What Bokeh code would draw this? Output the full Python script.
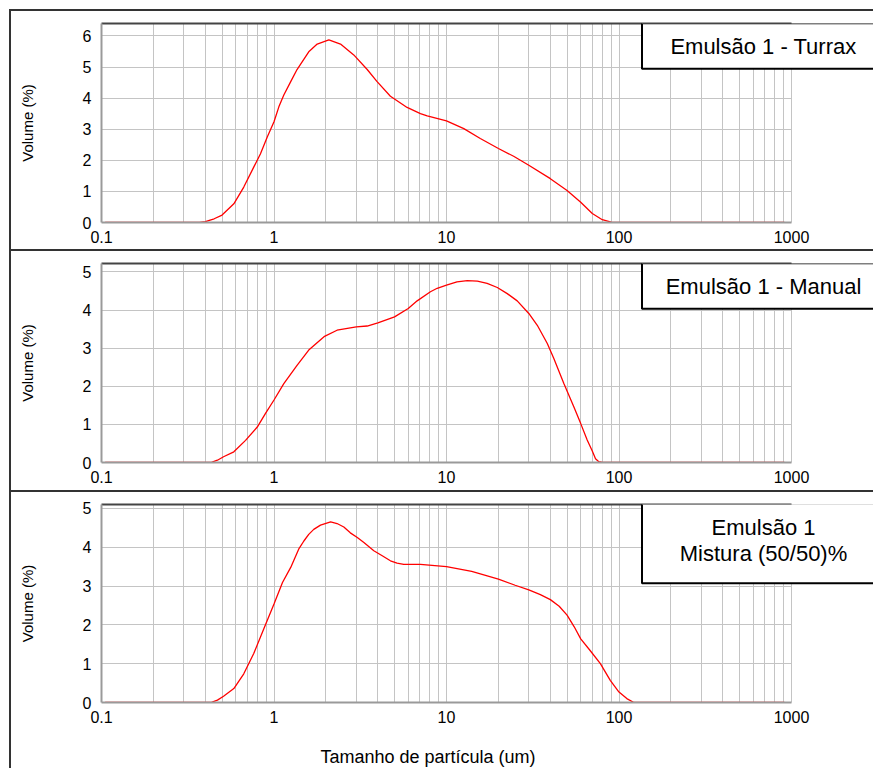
from bokeh.plotting import figure
from bokeh.layouts import column, row
from bokeh.models import (FixedTicker, Span, BoxAnnotation, Label, Range1d, Div, LogAxis, Title)
from bokeh.embed import file_html
from bokeh.resources import INLINE

# ---------------- data ----------------
size_turrax = [0.105, 0.2, 0.3, 0.37, 0.4, 0.45, 0.5, 0.585, 0.668, 0.763, 0.835, 0.914,
               1.0, 1.067, 1.14, 1.25, 1.36, 1.59, 1.78, 2.08, 2.43, 2.90, 3.47, 3.96,
               4.73, 5.91, 7.06, 7.73, 10, 12.6, 15.7, 20, 24.5, 30, 40, 50, 60, 70,
               80, 90, 100, 200, 500, 910]
vol_turrax = [0, 0, 0, 0, 0.03, 0.12, 0.24, 0.60, 1.14, 1.78, 2.21, 2.75,
              3.24, 3.72, 4.10, 4.53, 4.92, 5.49, 5.74, 5.87, 5.74, 5.39, 4.92, 4.53,
              4.06, 3.70, 3.50, 3.43, 3.27, 3.02, 2.70, 2.38, 2.13, 1.84, 1.41, 1.03, 0.65, 0.29,
              0.09, 0.01, 0, 0, 0, 0]

size_manual = [0.105, 0.2, 0.3, 0.43, 0.47, 0.51, 0.585, 0.684, 0.80, 0.893, 1.0, 1.14,
               1.36, 1.59, 1.95, 2.32, 3.0, 3.47, 4.0, 5.0, 6.0, 6.76, 8.07, 8.83, 10, 11.5,
               13.2, 15.1, 17.2, 19.7, 22.5, 25.7, 30, 33.6, 38.4, 41.9, 47.9, 54.7, 60,
               65.4, 70, 73.1, 76.4, 80, 100, 200, 500, 910]
vol_manual = [0, 0, 0, 0, 0.06, 0.15, 0.28, 0.58, 0.93, 1.29, 1.64, 2.07,
              2.55, 2.95, 3.30, 3.47, 3.56, 3.58, 3.66, 3.82, 4.04, 4.24, 4.48, 4.57, 4.65, 4.74,
              4.77, 4.76, 4.70, 4.59, 4.43, 4.24, 3.91, 3.60, 3.12, 2.73, 2.07, 1.46, 1.02,
              0.59, 0.30, 0.10, 0.02, 0, 0, 0, 0, 0]

size_mistura = [0.105, 0.2, 0.3, 0.43, 0.47, 0.51, 0.585, 0.668, 0.763, 0.873, 1.0, 1.12,
                1.25, 1.39, 1.49, 1.59, 1.70, 1.86, 2.13, 2.32, 2.54, 2.77, 3.04, 3.32, 3.79,
                4.24, 4.73, 5.17, 5.65, 7.06, 10,
                14, 20, 25, 30, 35, 40, 45, 50, 55, 60, 68, 78, 89, 100, 111, 122,
                200, 500, 910]
vol_mistura = [0, 0, 0, 0, 0.06, 0.16, 0.36, 0.74, 1.26, 1.90, 2.54, 3.09,
               3.48, 3.95, 4.16, 4.33, 4.46, 4.57, 4.65, 4.61, 4.52, 4.37, 4.25, 4.12, 3.91,
               3.78, 3.65, 3.59, 3.56, 3.56, 3.50,
               3.38, 3.18, 3.02, 2.90, 2.78, 2.65, 2.48, 2.25, 1.95, 1.64, 1.34, 1.00, 0.57, 0.27, 0.10, 0.0,
               0, 0, 0]

x_tick_values = [0.1, 1, 10, 100, 1000]
x_tick_labels = ["0.1", "1", "10", "100", "1000"]
y_title = "Volume (%)"
x_title = "Tamanho de partícula (um)"
legend_turrax = ["Emulsão 1 - Turrax"]
legend_manual = ["Emulsão 1 - Manual"]
legend_mistura = ["Emulsão 1", "Mistura (50/50)%"]

# ---------------- styling / layout ----------------
FONT = "Liberation Sans"
GRID = "#c4c4c4"
BORDER = "#333333"
FIG_W = 862                 # figures start at x = 11 (after page border)
FRAME_L = 90                # frame left inside figure (global x = 101)
DECADE_PX = 172.5           # pixels per decade in the reference
X_MIN, X_MAX = 0.1, 1000
# frame runs to the right page edge so the legend boxes can overflow the axes area
x_view_end = 10 ** (-1 + (FIG_W - FRAME_L) / DECADE_PX)
minor_ticks = [m * 10.0 ** e for e in range(-1, 3) for m in range(2, 10)]


def canvas_box(p, left, right, top, bottom, fill, line=None, lw=0, level="annotation"):
    b = BoxAnnotation(left=left, right=right, top=top, bottom=bottom,
                      left_units="canvas", right_units="canvas",
                      top_units="canvas", bottom_units="canvas",
                      fill_color=fill, fill_alpha=1.0,
                      line_color=line, line_alpha=1.0 if line else 0.0,
                      line_width=lw, level=level)
    p.add_layout(b)


def edge_axis(**kw):
    """An axis without ticks or labels, used only for its line."""
    return LogAxis(ticker=FixedTicker(ticks=[]), bounds=(X_MIN, X_MAX),
                   major_tick_line_color=None, minor_tick_line_color=None,
                   major_tick_in=0, major_tick_out=0, minor_tick_out=0,
                   major_label_standoff=0, **kw)


def spacer_axis(size):
    """An invisible axis whose (hidden) tick length reserves vertical space."""
    return LogAxis(ticker=FixedTicker(ticks=[1]), bounds=(X_MIN, X_MAX),
                   axis_line_color=None, major_tick_line_color=None,
                   minor_tick_line_color=None, major_tick_in=0,
                   major_tick_out=size, minor_tick_out=0,
                   major_label_overrides={1: ""}, major_label_standoff=0,
                   major_label_text_font_size="1px")


def make_panel(sizes, vols, ymax, yticks, height, top, bottom, legend_lines,
               box_top, box_bottom, text_ys, xlabel=None):
    p = figure(width=FIG_W, height=height, x_axis_type="log",
               x_range=Range1d(X_MIN, x_view_end), y_range=Range1d(0, ymax),
               output_backend="svg", toolbar_location=None,
               min_border_left=FRAME_L, min_border_right=0,
               min_border_top=top, min_border_bottom=bottom, margin=0)
    p.background_fill_color = "white"
    p.border_fill_color = "white"
    p.outline_line_color = None

    xt = FixedTicker(ticks=x_tick_values, minor_ticks=minor_ticks)
    p.xaxis.ticker = xt
    p.xgrid.ticker = xt
    p.xaxis.bounds = (X_MIN, X_MAX)
    p.xaxis.major_label_overrides = {v: s for v, s in zip(x_tick_values, x_tick_labels)}
    yt = FixedTicker(ticks=yticks)
    p.yaxis.ticker = yt
    p.ygrid.ticker = yt

    for g in (p.xgrid, p.ygrid):
        g.grid_line_color = GRID
        g.grid_line_width = 1
    p.xgrid.minor_grid_line_color = GRID
    p.xgrid.minor_grid_line_width = 1

    for ax in (p.xaxis, p.yaxis):
        ax.axis_line_color = "#9a9a9a"
        ax.axis_line_width = 2
        ax.major_tick_line_color = None
        ax.minor_tick_line_color = None
        ax.major_tick_in = 0
        ax.major_tick_out = 0
        ax.major_label_text_font = FONT
        ax.major_label_text_font_size = "16px"
        ax.major_label_text_color = "black"
    p.xaxis.major_label_standoff = 4
    p.yaxis.major_label_standoff = 10

    p.yaxis.axis_label = y_title
    p.yaxis.axis_label_text_font = FONT
    p.yaxis.axis_label_text_font_size = "15px"
    p.yaxis.axis_label_text_font_style = "normal"
    p.yaxis.axis_label_text_color = "black"
    p.yaxis.axis_label_standoff = 44

    if xlabel:
        # spacer between tick labels and the x title
        p.add_layout(spacer_axis(21), "below")
        p.add_layout(Title(text=xlabel, align="left", offset=219, standoff=0,
                           vertical_align="top",
                           text_font=FONT, text_font_size="18px", text_font_style="normal",
                           text_color="black"), "below")

    # dark top edge of the plot area
    p.add_layout(edge_axis(axis_line_color="#444444", axis_line_width=2), "above")

    # blank out the area right of x = 1000 (legend overflow area)
    p.add_layout(BoxAnnotation(left=X_MAX, fill_color="white", fill_alpha=1.0,
                               line_alpha=0.0, level="underlay"))
    p.add_layout(Span(location=X_MAX, dimension="height", line_color=GRID,
                      line_width=1, level="underlay"))

    p.line(sizes, vols, line_color="#ff0000", line_width=1.3)

    # legend box
    canvas_box(p, 630.5, 890, box_top, box_bottom, "white", "black", 2)
    frame_bottom = height - bottom
    for txt, ty in zip(legend_lines, text_ys):
        p.add_layout(Label(x=763 - 101, y=frame_bottom - ty, x_units="screen", y_units="screen",
                           text=txt, text_font=FONT, text_font_size="22px",
                           text_align="center", text_baseline="middle", text_color="black"))
    return p


# heights: p1 global y 11..249, p2 251..490, p3 492..768
p1 = make_panel(size_turrax, vol_turrax, 6.4, [0, 1, 2, 3, 4, 5, 6], 238, 12, 27,
                legend_turrax, 11.7, 57.3, [34.5])
p2 = make_panel(size_manual, vol_manual, 5.22, [0, 1, 2, 3, 4, 5], 239, 12, 28,
                legend_manual, 11.7, 57.3, [34.5])
p3 = make_panel(size_mistura, vol_mistura, 5.1, [0, 1, 2, 3, 4, 5], 276, 12, 66,
                legend_mistura, 10.7, 90.7, [34.7, 60.7], xlabel=x_title)


def hline():
    return Div(text="", width=FIG_W, height=2, margin=0,
               styles={"background-color": BORDER})


vline = Div(text="", width=2, height=759, margin=0, styles={"background-color": BORDER})
top_space = Div(text="", width=873, height=9, margin=0)
left_space = Div(text="", width=9, height=759, margin=0)

right_col = column(hline(), p1, hline(), p2, hline(), p3, spacing=0)
layout = column(top_space, row(left_space, vline, right_col, spacing=0), spacing=0)
open("out.html", "w").write(file_html(layout, INLINE))
